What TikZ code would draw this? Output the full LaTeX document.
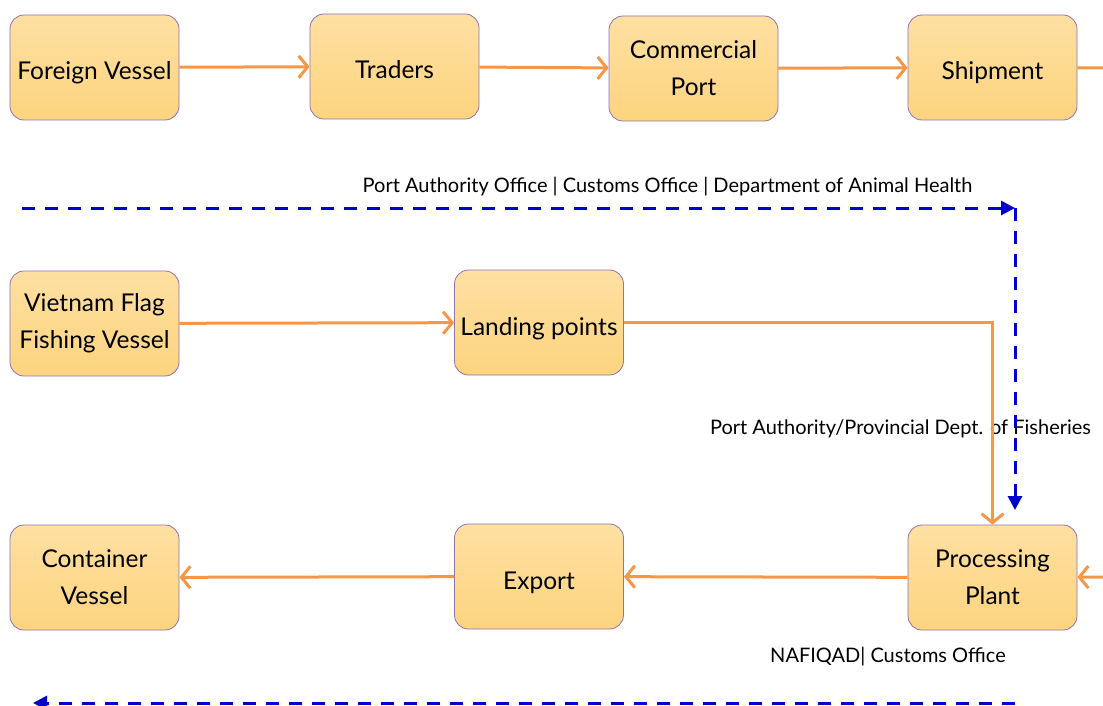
\documentclass[tikz,border=0pt]{standalone}
\usepackage{fontspec}
\setmainfont{Lato}
\usetikzlibrary{arrows.meta}
\definecolor{boxtop}{HTML}{FEE0A2}
\definecolor{boxbot}{HTML}{FDD47F}
\definecolor{boxline}{HTML}{8E72B5}
\definecolor{flowc}{HTML}{F79646}
\definecolor{checkc}{HTML}{0000CC}
\tikzset{
  stage/.style={draw=boxline, line width=0.8pt, rounded corners=14pt, top color=boxtop, bottom color=boxbot,
    minimum width=169pt, minimum height=105pt, align=center, font=\fontsize{24.5}{37}\selectfont},
  oneline/.style={text height=25pt, text depth=0pt},
  flow/.style={draw=flowc, line width=3pt, -{Straight Barb[length=9pt,width=22pt]}},
  check/.style={draw=checkc, line width=3pt, dash pattern=on 13pt off 10pt, -{Triangle[length=14pt,width=14pt]}},
  note/.style={font=\fontsize{20}{24}\selectfont}
}
\begin{document}
\begin{tikzpicture}[x=1pt, y=-1pt]
    \useasboundingbox (0, 0) rectangle (1103, 706);

    \node[stage, oneline] (vessel)    at (94.5, 67.5)   {Foreign Vessel};
    \node[stage, oneline] (traders)   at (394.5, 66.5)  {Traders};
    \node[stage] (port)      at (693.5, 68.5)  {Commercial\\Port};
    \node[stage, oneline] (shipment)  at (992.5, 67.5)  {Shipment};
    \node[stage] (flag)      at (94.5, 323.5)  {Vietnam Flag\\Fishing Vessel};
    \node[stage, oneline] (landing)   at (539, 322.5)   {Landing points};
    \node[stage] (plant)     at (992.5, 577.5) {Processing\\Plant};
    \node[stage, oneline] (export)    at (539, 576.5)   {Export};
    \node[stage] (container) at (94.5, 577.5)  {Container\\Vessel};

    \node[note] (portlabel)  at (667.5, 187) {Port Authority Office | Customs Office | Department of Animal Health};
    \node[note] (landlabel)  at (900.5, 429) {Port Authority/Provincial Dept. of Fisheries};
    \node[note] (exportlabel) at (888, 657) {NAFIQAD| Customs Office};

    \coordinate (shipout)  at (1103, 68);
    \coordinate (plantin)  at (1103, 577);
    \coordinate (checka)   at (22, 208);
    \coordinate (checkb)   at (1015, 208);
    \coordinate (checkc)   at (1015, 510);
    \coordinate (checkd)   at (1015, 703);
    \coordinate (checke)   at (33, 703);

    \draw[flow] (vessel) -- (traders);
    \draw[flow] (traders) -- (port);
    \draw[flow] (port) -- (shipment);
    \draw[flow, -] (shipment) -- (shipout);
    \draw[flow] (flag) -- (landing);
    \draw[flow] (landing) -| (plant);
    \draw[flow] (plantin) -- (plant);
    \draw[flow] (plant) -- (export);
    \draw[flow] (export) -- (container);

    \draw[check] (checka) -- (checkb);
    \draw[check] (checkb) -- (checkc);
    \draw[check] (checkd) -- (checke);
\end{tikzpicture}
\end{document}
